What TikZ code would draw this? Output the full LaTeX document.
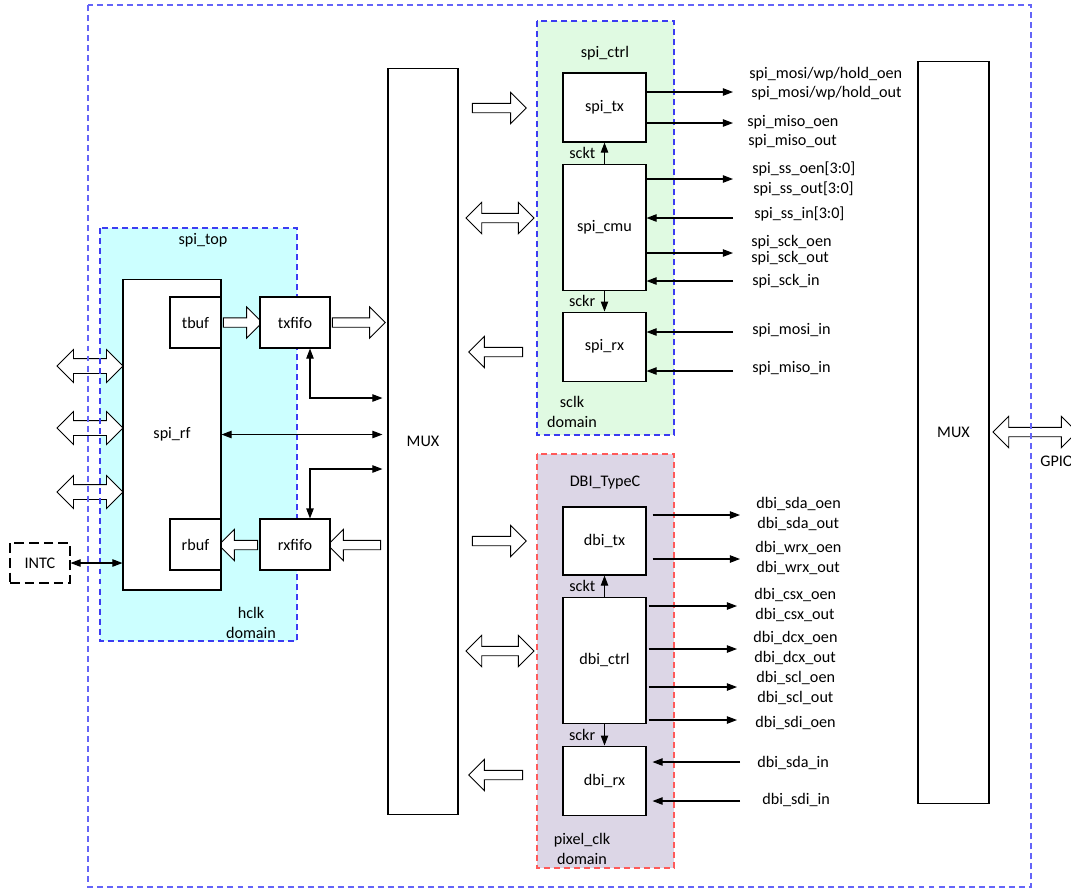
\documentclass[tikz,border=0pt]{standalone}
\usepackage{fontspec}
\setmainfont{Carlito}
\usetikzlibrary{positioning, shapes.arrows, arrows.meta}
\definecolor{topCian}{HTML}{CCFFFF}
\definecolor{ctrlVerde}{HTML}{E0FAE2}
\definecolor{dbiLila}{HTML}{DCD6E6}
\definecolor{lineaAzul}{HTML}{3C3CF2}
\definecolor{bordeAzul}{HTML}{6464F8}
\definecolor{lineaRoja}{HTML}{FF5A5A}

\begin{document}
\begin{tikzpicture}[
  x=0.02cm, y=-0.02cm,
  >={Triangle[length=5.7pt, width=4.2pt]},
  every node/.style={font=\fontsize{9.2}{11.3}\selectfont},
  blk/.style={draw, fill=white, line width=0.6pt, inner sep=0pt, minimum width=1.66cm},
  dom/.style={line width=0.8pt, dash pattern=on 3.4pt off 2.3pt},
  sarr/.style={->, line width=0.6pt},
  darr/.style={<->, line width=0.6pt},
  sig/.style={anchor=west, inner sep=0pt},
  clk/.style={left=5pt, inner sep=0pt},
  hollow/.style={draw, fill=white, line width=0.5pt, inner sep=0pt, text height=0.17cm, text depth=0pt},
  harrow/.style={hollow, single arrow, single arrow head extend=0.22cm},
  hdarrow/.style={hollow, double arrow, double arrow head extend=0.22cm}
]
  \useasboundingbox (0,0) rectangle (1071,890);

  % --- Fondos de los dominios ---
  \fill[topCian]   (100,228) rectangle (297,641);
  \fill[ctrlVerde] (537,21)  rectangle (674,435);
  \fill[dbiLila]   (537,454) rectangle (674,868);

  % --- Buses (flechas huecas) ---
  \node[hdarrow, text height=0.28cm, double arrow head extend=0.18cm, minimum height=1.32cm] (bus1) at (90,366) {};
  \node[hdarrow, text height=0.28cm, double arrow head extend=0.18cm, minimum height=1.32cm] (bus2) at (90,428) {};
  \node[hdarrow, text height=0.28cm, double arrow head extend=0.18cm, minimum height=1.32cm] (bus3) at (90,492) {};

  \node[harrow, minimum height=0.78cm] (bwtx) at (240.5,322.5) {};
  \node[harrow, minimum height=1.06cm] (bwmux) at (356.5,322.5) {};
  \node[harrow, shape border rotate=180, minimum height=1.06cm] (brmux) at (356.5,545) {};
  \node[harrow, shape border rotate=180, minimum height=0.78cm] (brbuf) at (240.5,545) {};

  \node[harrow, minimum height=1.08cm] (bspitx) at (497,108) {};
  \node[hdarrow, minimum height=1.36cm] (bspicmu) at (500,218) {};
  \node[harrow, shape border rotate=180, minimum height=1.08cm] (bspirx) at (498,352) {};
  \node[harrow, minimum height=1.08cm] (bdbitx) at (497,541) {};
  \node[hdarrow, minimum height=1.36cm] (bdbictrl) at (500,651) {};
  \node[harrow, shape border rotate=180, minimum height=1.08cm] (bdbirx) at (498,775) {};

  \node[hdarrow, minimum height=1.68cm] (bgpio) at (1035,432) {};

  % --- Bordes punteados ---
  \draw[bordeAzul, dom] (88,5) rectangle (1031,887);
  \draw[lineaAzul, dom] (100,228) rectangle (297,641);
  \draw[lineaAzul, dom] (537,21) rectangle (674,435);
  \draw[lineaRoja, dom] (537,454) rectangle (674,868);

  % --- spi_top ---
  \node[blk, minimum width=1.96cm, minimum height=6.22cm] (spirf) at (172,434.5) {spi\_rf};
  \node[blk, minimum width=1.02cm, minimum height=1.02cm] (tbuf) at (195.5,322.5) {tbuf};
  \node[blk, minimum width=1.02cm, minimum height=1.02cm] (rbuf) at (195.5,544.5) {rbuf};
  \node[blk, minimum width=1.4cm, minimum height=1.02cm] (txfifo) at (295,322.5) {txfifo};
  \node[blk, minimum width=1.4cm, minimum height=1.02cm] (rxfifo) at (295,544.5) {rxfifo};
  \node[blk, dash pattern=on 5.5pt off 2.8pt, minimum width=1.2cm, minimum height=0.8cm] (intc) at (40,563) {INTC};

  % --- MUX ---
  \node[blk, minimum width=1.4cm, minimum height=14.94cm] (mux1) at (423,441.5) {MUX};
  \node[blk, minimum width=1.42cm, minimum height=14.86cm] (mux2) at (953.5,432.5) {MUX};

  % --- spi_ctrl ---
  \node[blk, minimum height=1.38cm] (spitx) at (604.5,107.5) {spi\_tx};
  \node[blk, minimum height=2.52cm, below=0.42cm of spitx] (spicmu) {spi\_cmu};
  \node[blk, minimum height=1.38cm, below=0.42cm of spicmu] (spirx) {spi\_rx};

  % --- DBI_TypeC ---
  \node[blk, minimum height=1.36cm] (dbitx) at (604.5,541) {dbi\_tx};
  \node[blk, minimum height=2.52cm, below=0.42cm of dbitx] (dbictrl) {dbi\_ctrl};
  \node[blk, minimum height=1.38cm, below=0.44cm of dbictrl] (dbirx) {dbi\_rx};

  % --- Conexiones spi_top ---
  \coordinate (txj) at (310,398);
  \coordinate (rxj) at (310,469);
  \draw[darr] (intc.east) -- (intc.east -| spirf.west);
  \draw[darr, shorten >=0.1cm] (spirf.east) -- (spirf.east -| mux1.west);
  \draw[darr, shorten >=0.1cm] (txfifo.south -| txj) -- (txj) -- (txj -| mux1.west);
  \draw[darr, shorten >=0.1cm] (rxfifo.north -| rxj) -- (rxj) -- (rxj -| mux1.west);

  % --- Relojes ---
  \draw[sarr] (spicmu.north) -- node[clk] {sckt} (spitx.south);
  \draw[sarr] (spicmu.south) -- node[clk] {sckr} (spirx.north);
  \draw[sarr] (dbictrl.north) -- node[clk] {sckt} (dbitx.south);
  \draw[sarr] (dbictrl.south) -- node[clk] {sckr} (dbirx.north);

  % --- Señales spi ---
  \foreach \y [count=\i] in {92,123} {
    \coordinate (otx\i) at (733,\y);
    \draw[sarr] (spitx.east |- otx\i) -- (otx\i);
  }
  \foreach \y [count=\i] in {179,253} {
    \coordinate (ocmu\i) at (733,\y);
    \draw[sarr] (spicmu.east |- ocmu\i) -- (ocmu\i);
  }
  \foreach \y [count=\i] in {218,281} {
    \coordinate (icmu\i) at (733,\y);
    \draw[sarr] (icmu\i) -- (icmu\i -| spicmu.east);
  }
  \foreach \y [count=\i] in {332,371} {
    \coordinate (irx\i) at (733,\y);
    \draw[sarr] (irx\i) -- (irx\i -| spirx.east);
  }

  \node[sig] at (749,74)  {spi\_mosi/wp/hold\_oen};
  \node[sig] at (751,93)  {spi\_mosi/wp/hold\_out};
  \node[sig] at (747,122) {spi\_miso\_oen};
  \node[sig] at (748,141) {spi\_miso\_out};
  \node[sig] at (752,169) {spi\_ss\_oen[3:0]};
  \node[sig] at (753,189) {spi\_ss\_out[3:0]};
  \node[sig] at (754,214) {spi\_ss\_in[3:0]};
  \node[sig] at (751,242) {spi\_sck\_oen};
  \node[sig] at (751,258) {spi\_sck\_out};
  \node[sig] at (752,281) {spi\_sck\_in};
  \node[sig] at (752,330) {spi\_mosi\_in};
  \node[sig] at (752,368) {spi\_miso\_in};

  % --- Señales dbi ---
  \foreach \y [count=\i] in {515,559} {
    \coordinate (odtx\i) at (740,\y);
    \draw[sarr, shorten <=0.12cm] (dbitx.east |- odtx\i) -- (odtx\i);
  }
  \foreach \y [count=\i] in {606,649,687,720} {
    \coordinate (octrl\i) at (737,\y);
    \draw[sarr, shorten <=0.04cm] (dbictrl.east |- octrl\i) -- (octrl\i);
  }
  \foreach \y [count=\i] in {762,801} {
    \coordinate (idrx\i) at (740,\y);
    \draw[sarr, shorten >=0.12cm] (idrx\i) -- (idrx\i -| dbirx.east);
  }

  \node[sig] at (756,504) {dbi\_sda\_oen};
  \node[sig] at (757,524) {dbi\_sda\_out};
  \node[sig] at (755,548) {dbi\_wrx\_oen};
  \node[sig] at (756,568) {dbi\_wrx\_out};
  \node[sig] at (754,595) {dbi\_csx\_oen};
  \node[sig] at (755,615) {dbi\_csx\_out};
  \node[sig] at (753,638) {dbi\_dcx\_oen};
  \node[sig] at (754,658) {dbi\_dcx\_out};
  \node[sig] at (756,678) {dbi\_scl\_oen};
  \node[sig] at (757,698) {dbi\_scl\_out};
  \node[sig] at (755,723) {dbi\_sdi\_oen};
  \node[sig] at (757,763) {dbi\_sda\_in};
  \node[sig] at (762,800) {dbi\_sdi\_in};

  % --- Rótulos de dominios ---
  \node at (203,240) {spi\_top};
  \node[align=center] at (251,623) {hclk\\domain};
  \node at (605,53) {spi\_ctrl};
  \node[align=center] at (572,412) {sclk\\domain};
  \node at (605,483) {DBI\_TypeC};
  \node[align=center] at (582,849) {pixel\_clk\\domain};
  \node[sig] (gpio) at (1040,461) {GPIO};
\end{tikzpicture}
\end{document}
